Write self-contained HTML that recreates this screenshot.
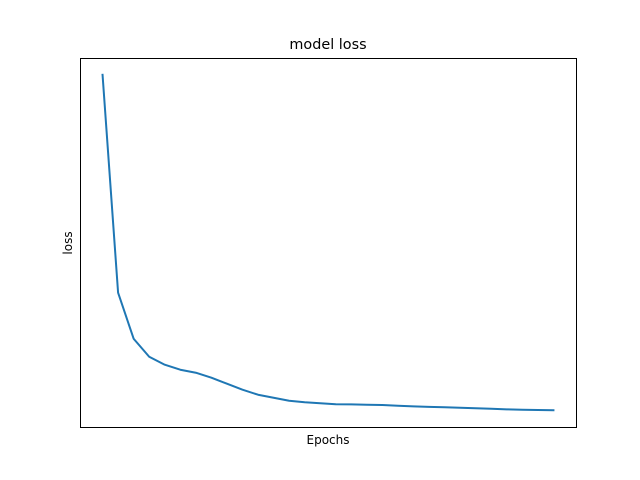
<!DOCTYPE html>
<html><head><meta charset="utf-8"><style>
body{margin:0;background:#fff;}
svg{display:block;font-family:"DejaVu Sans","Liberation Sans",sans-serif;}
</style></head><body>
<svg id="chart" width="640" height="480" viewBox="0 0 640 480">
<rect x="0" y="0" width="640" height="480" fill="#fff"/>
<text x="328" y="49" font-size="14.4" text-anchor="middle" fill="#000">model loss</text>
<text x="328" y="444" font-size="12" text-anchor="middle" fill="#000">Epochs</text>
<text transform="translate(72,243) rotate(-90)" font-size="12" text-anchor="middle" fill="#000">loss</text>
<g id="plot"></g>
<rect x="80.5" y="58.5" width="496" height="369" fill="none" stroke="#000" stroke-width="1"/>
</svg>
<script>
const epochs = [0,1,2,3,4,5,6,7,8,9,10,11,12,13,14,15,16,17,18,19,20,21,22,23,24,25,26,27,28,29];
const loss = [3.56,1.38,0.92,0.74,0.66,0.61,0.58,0.53,0.47,0.41,0.36,0.33,0.30,0.285,0.275,0.265,0.263,0.26,0.257,0.25,0.243,0.238,0.235,0.23,0.225,0.22,0.214,0.21,0.207,0.205];
const L=80,R=576,T=58,B=427;
const xmin=Math.min(...epochs),xmax=Math.max(...epochs),xm=(xmax-xmin)*0.05;
const ymin=Math.min(...loss),ymax=Math.max(...loss),ym=(ymax-ymin)*0.05;
function xs(v){return L+(v-(xmin-xm))/((xmax+xm)-(xmin-xm))*(R-L);}
function ys(v){return B-(v-(ymin-ym))/((ymax+ym)-(ymin-ym))*(B-T);}
const d=epochs.map((e,i)=>(i?'L':'M')+xs(e).toFixed(2)+','+ys(loss[i]).toFixed(2)).join(' ');
const p=document.createElementNS('http://www.w3.org/2000/svg','path');
p.setAttribute('d',d);
p.setAttribute('fill','none');
p.setAttribute('stroke','#1f77b4');
p.setAttribute('stroke-width','2');
p.setAttribute('stroke-linejoin','round');
p.setAttribute('stroke-linecap','square');


document.getElementById('plot').appendChild(p);
</script>
</body></html>
